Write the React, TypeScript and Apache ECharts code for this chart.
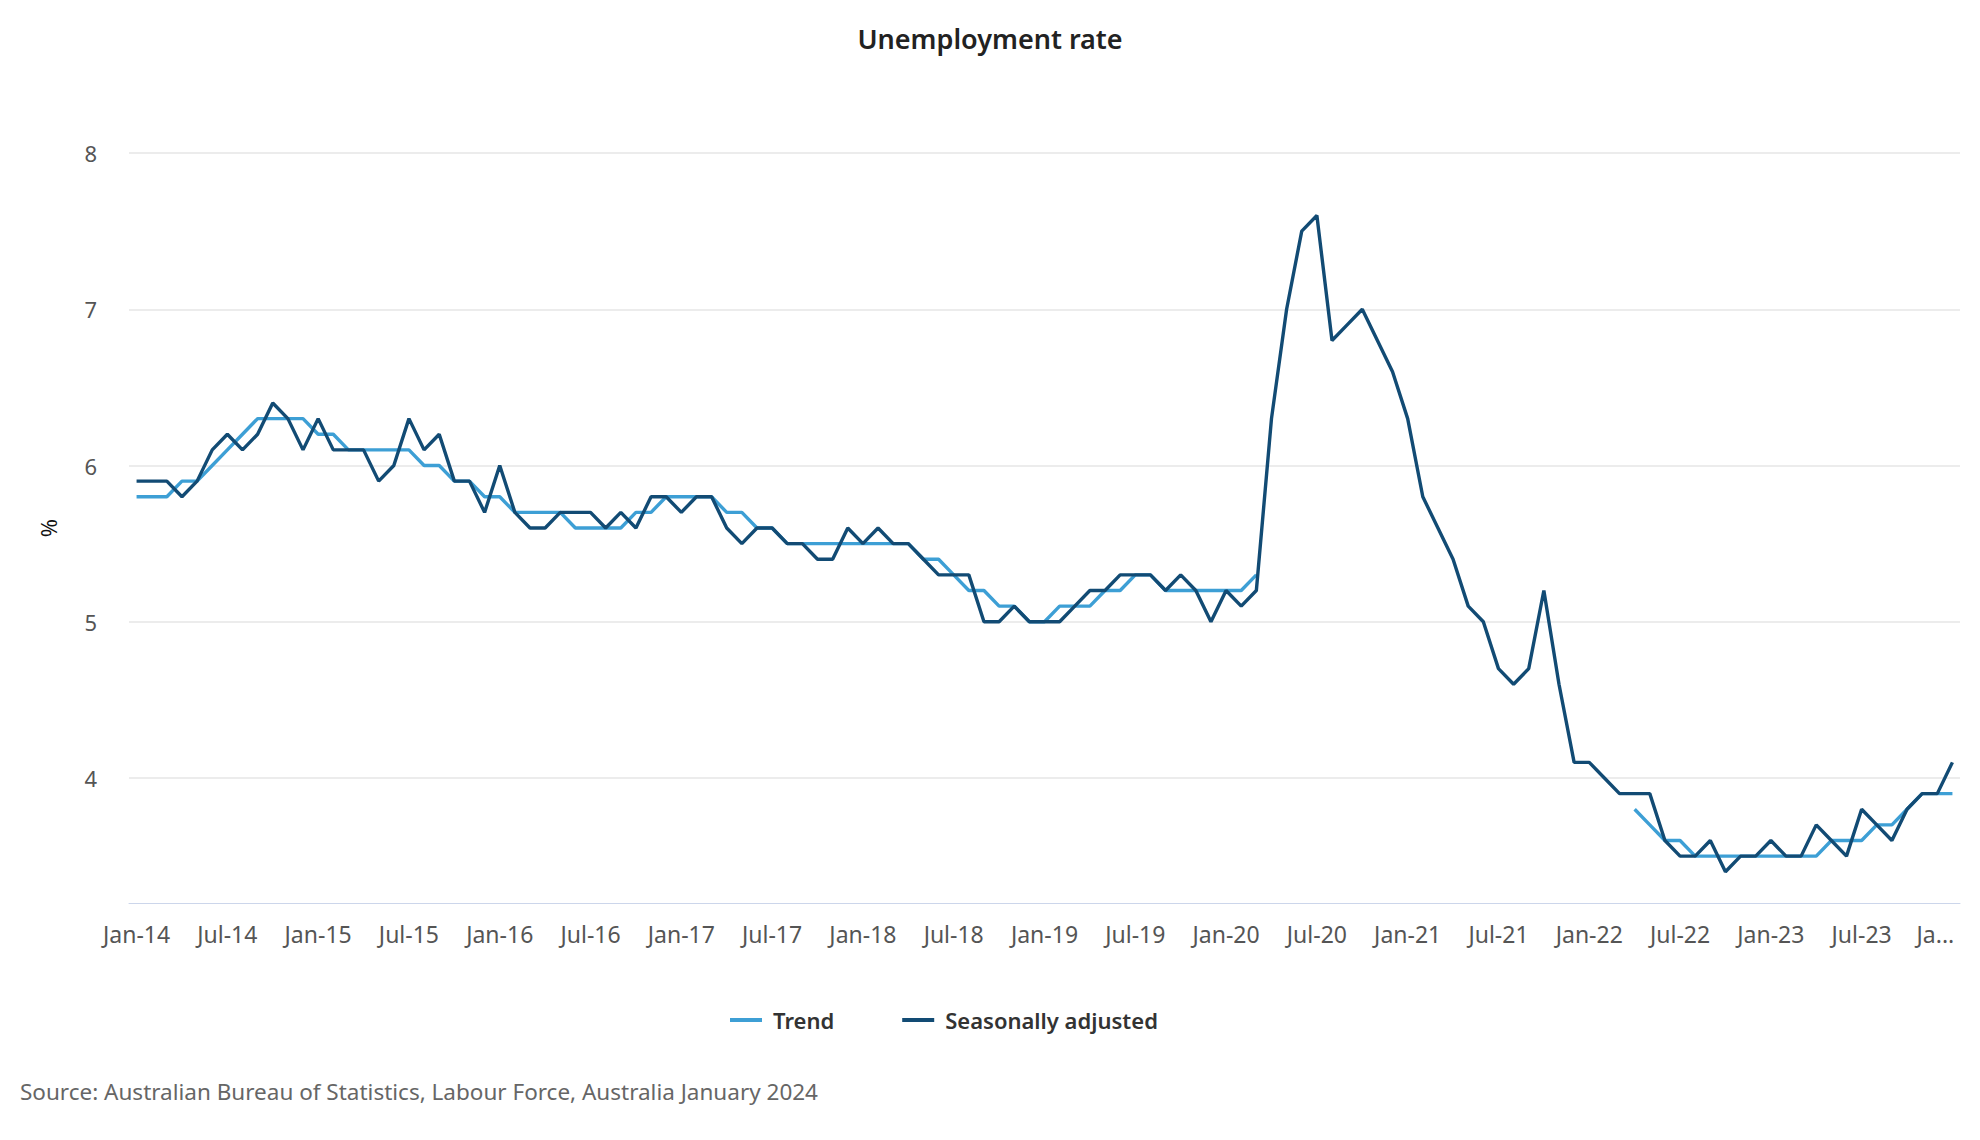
import React, { useEffect, useRef } from "react";
import * as echarts from "echarts";

const MONTHS = ["Jan", "Feb", "Mar", "Apr", "May", "Jun", "Jul", "Aug", "Sep", "Oct", "Nov", "Dec"];
const YEARS = [14, 15, 16, 17, 18, 19, 20, 21, 22, 23, 24];

const categories: string[] = [];
YEARS.forEach((y) => {
  MONTHS.forEach((m, mi) => {
    if (y === 24 && mi > 0) return;
    categories.push(`${m}-${y}`);
  });
});

const trend: (number | null)[] = [
  5.8, 5.8, 5.8, 5.9, 5.9, 6.0, 6.1, 6.2, 6.3, 6.3, 6.3, 6.3,
  6.2, 6.2, 6.1, 6.1, 6.1, 6.1, 6.1, 6.0, 6.0, 5.9, 5.9, 5.8,
  5.8, 5.7, 5.7, 5.7, 5.7, 5.6, 5.6, 5.6, 5.6, 5.7, 5.7, 5.8,
  5.8, 5.8, 5.8, 5.7, 5.7, 5.6, 5.6, 5.5, 5.5, 5.5, 5.5, 5.5,
  5.5, 5.5, 5.5, 5.5, 5.4, 5.4, 5.3, 5.2, 5.2, 5.1, 5.1, 5.0,
  5.0, 5.1, 5.1, 5.1, 5.2, 5.2, 5.3, 5.3, 5.2, 5.2, 5.2, 5.2,
  5.2, 5.2, 5.3, null, null, null, null, null, null, null, null, null,
  null, null, null, null, null, null, null, null, null, null, null, null,
  null, null, null, 3.8, 3.7, 3.6, 3.6, 3.5, 3.5, 3.5, 3.5, 3.5,
  3.5, 3.5, 3.5, 3.5, 3.6, 3.6, 3.6, 3.7, 3.7, 3.8, 3.9, 3.9,
  3.9,
];

const seasonallyAdjusted: number[] = [
  5.9, 5.9, 5.9, 5.8, 5.9, 6.1, 6.2, 6.1, 6.2, 6.4, 6.3, 6.1,
  6.3, 6.1, 6.1, 6.1, 5.9, 6.0, 6.3, 6.1, 6.2, 5.9, 5.9, 5.7,
  6.0, 5.7, 5.6, 5.6, 5.7, 5.7, 5.7, 5.6, 5.7, 5.6, 5.8, 5.8,
  5.7, 5.8, 5.8, 5.6, 5.5, 5.6, 5.6, 5.5, 5.5, 5.4, 5.4, 5.6,
  5.5, 5.6, 5.5, 5.5, 5.4, 5.3, 5.3, 5.3, 5.0, 5.0, 5.1, 5.0,
  5.0, 5.0, 5.1, 5.2, 5.2, 5.3, 5.3, 5.3, 5.2, 5.3, 5.2, 5.0,
  5.2, 5.1, 5.2, 6.3, 7.0, 7.5, 7.6, 6.8, 6.9, 7.0, 6.8, 6.6,
  6.3, 5.8, 5.6, 5.4, 5.1, 5.0, 4.7, 4.6, 4.7, 5.2, 4.6, 4.1,
  4.1, 4.0, 3.9, 3.9, 3.9, 3.6, 3.5, 3.5, 3.6, 3.4, 3.5, 3.5,
  3.6, 3.5, 3.5, 3.7, 3.6, 3.5, 3.8, 3.7, 3.6, 3.8, 3.9, 3.9,
  4.1,
];

const yTicks = [4, 5, 6, 7, 8];

const FONT = "'Noto Sans', 'Open Sans', sans-serif";

export default function App() {
  const ref = useRef<HTMLDivElement>(null);

  useEffect(() => {
    document.body.style.margin = "0";
    if (!ref.current) return;
    const chart = echarts.init(ref.current, undefined, { renderer: "svg" });
    const last = categories.length - 1;
    chart.setOption({
      animation: false,
      backgroundColor: "#ffffff",
      textStyle: { fontFamily: FONT },
      title: {
        text: "Unemployment rate",
        left: "center",
        top: 20,
        textStyle: { fontFamily: FONT, fontSize: 27, fontWeight: 600, color: "#222222" },
      },
      legend: {
        left: 725,
        top: 1004,
        itemWidth: 32,
        itemHeight: 4,
        itemGap: 68,
        icon: "rect",
        textStyle: { fontFamily: FONT, fontSize: 22, fontWeight: 600, color: "#333333", padding: [0, 0, 0, 6] },
        data: ["Trend", "Seasonally adjusted"],
      },
      graphic: [
        {
          type: "text",
          left: 20,
          top: 1080,
          style: {
            text: "Source: Australian Bureau of Statistics, Labour Force, Australia January 2024",
            fontFamily: FONT,
            fontSize: 22.5,
            fill: "#666666",
          },
        },
      ],
      grid: { left: 129, right: 20, top: 153, bottom: 237, containLabel: false },
      xAxis: {
        type: "category",
        data: categories,
        boundaryGap: true,
        axisLine: { show: true, lineStyle: { color: "#ccd6eb", width: 1 } },
        axisTick: { show: false },
        axisLabel: {
          interval: 5,
          margin: 19,
          fontFamily: FONT,
          fontSize: 23,
          color: "#555555",
          formatter: (v: string, i: number) => (i === last ? "{last|Ja...}" : v),
          rich: {
            last: { fontFamily: FONT, fontSize: 23, color: "#555555", padding: [0, 34, 0, 0] },
          },
        },
        splitLine: { show: false },
      },
      yAxis: {
        type: "value",
        min: 3.2,
        max: 8,
        name: "%",
        nameLocation: "middle",
        nameGap: 70,
        nameRotate: 90,
        nameTextStyle: { fontFamily: FONT, fontSize: 22, color: "#111111" },
        axisLine: { show: false },
        axisTick: { show: false, customValues: yTicks },
        axisLabel: {
          customValues: yTicks,
          margin: 32,
          fontFamily: FONT,
          fontSize: 22,
          color: "#555555",
        },
        splitLine: { show: true, lineStyle: { color: "#e6e6e6", width: 1.5 } },
      },
      series: [
        {
          name: "Trend",
          type: "line",
          data: trend,
          connectNulls: false,
          showSymbol: false,
          symbol: "none",
          lineStyle: { width: 3.4, color: "#3d9fd5" },
          itemStyle: { color: "#3d9fd5" },
          z: 2,
        },
        {
          name: "Seasonally adjusted",
          type: "line",
          data: seasonallyAdjusted,
          showSymbol: false,
          symbol: "none",
          lineStyle: { width: 3.4, color: "#124b74" },
          itemStyle: { color: "#124b74" },
          z: 3,
        },
      ],
    });
    return () => chart.dispose();
  }, []);

  return <div ref={ref} style={{ width: 1980, height: 1140 }} />;
}
